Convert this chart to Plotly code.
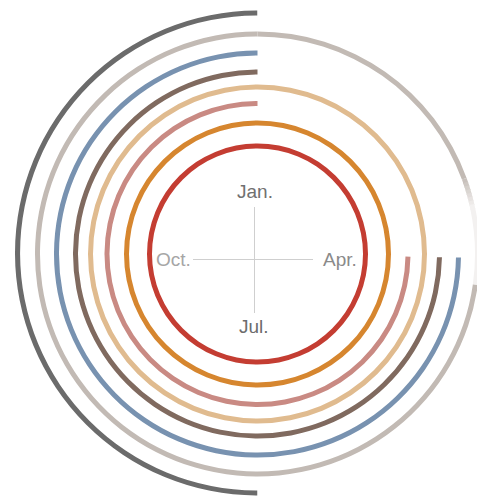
import plotly.graph_objects as go

W, H = 485, 498
OFF = 8  # page body margin: the figure is drawn 8px right/down of the window origin

# ---- data: one ring per series, arcs run clockwise from start angle to Jan. (top) ----
ring_ids = ["r1", "r2", "r3", "r4", "r5", "r6", "r7", "r8"]
ring_radius = [108, 131, 150.5, 167, 182, 201, 220, 240]
arc_start_deg = [0, 0, 91, 0, 91, 91, 98, 180]      # degrees clockwise from top
arc_end_deg = [360, 360, 360, 360, 360, 360, 360, 360]
ring_colors = ["#c43d32", "#d6862f", "#c98a83", "#e0bb8f",
               "#806a5f", "#7892b0", "#c2bab4", "#6b6b6b"]

# the light ring also has a fading segment at the top-right
partial_start = 0
partial_solid_end = 70
partial_fade_end = 78

month_labels = ["Jan.", "Apr.", "Jul.", "Oct."]
month_label_colors = ["#707070", "#8a8a8a", "#6c6c6c", "#a6a6a6"]

THICK = 5.0

fig = go.Figure()

def sx(x):  # window px -> paper x
    return (x - OFF) / W

def sy(y):  # window px (from top) -> paper y
    return 1 - (y - OFF) / H

# main polar: all rings except the outermost
CX, CY, R1 = 257.5, 254, 226
# outer polar (left half only)
CX2, CY2, R2 = 257.5, 253, 244

def add_arc(subplot, radius, a0, a1, color):
    fig.add_trace(go.Barpolar(
        r=[THICK], base=[radius - THICK / 2], theta=[(a0 + a1) / 2], width=[a1 - a0],
        marker=dict(color=color, line=dict(width=0)),
        subplot=subplot, hoverinfo="skip", showlegend=False))

def mix(c1, c2, t):
    a = [int(c1[i:i + 2], 16) for i in (1, 3, 5)]
    b = [int(c2[i:i + 2], 16) for i in (1, 3, 5)]
    return "#%02x%02x%02x" % tuple(round(a[k] + (b[k] - a[k]) * t) for k in range(3))

for i, rid in enumerate(ring_ids):
    sub = "polar2" if i == len(ring_ids) - 1 else "polar"
    add_arc(sub, ring_radius[i], arc_start_deg[i], arc_end_deg[i], ring_colors[i])

# fading top-right part of the light ring
si = 6
add_arc("polar", ring_radius[si], partial_start, partial_solid_end, ring_colors[si])
faint = "#f3f1f0"
nseg = 8
step = (partial_fade_end - partial_solid_end) / nseg
for k in range(nseg):
    a0 = partial_solid_end + k * step
    add_arc("polar", ring_radius[si], a0, a0 + step + 0.3, mix(ring_colors[si], faint, (k + 1) / nseg))
add_arc("polar", ring_radius[si], partial_fade_end, arc_start_deg[si], faint)

# month cross: a small cartesian subplot whose zero lines form the cross
CROSS_X0, CROSS_X1, CROSS_XC = 193, 313, 254
CROSS_Y0, CROSS_Y1, CROSS_YC = 207, 313, 259
fig.add_trace(go.Scatter(x=[0], y=[0], mode="markers", marker=dict(opacity=0),
                         xaxis="x", yaxis="y", hoverinfo="skip", showlegend=False))

fig.update_layout(
    width=W, height=H, margin=dict(l=0, r=0, t=0, b=0),
    paper_bgcolor="white", plot_bgcolor="rgba(0,0,0,0)", showlegend=False,
    polar=dict(domain=dict(x=[sx(CX - R1), sx(CX + R1)], y=[sy(CY + R1), sy(CY - R1)]),
               bgcolor="rgba(0,0,0,0)",
               radialaxis=dict(visible=False, range=[0, R1]),
               angularaxis=dict(visible=False, rotation=90, direction="clockwise"),
               bargap=0),
    polar2=dict(domain=dict(x=[sx(CX2 - R2), sx(CX2)], y=[sy(CY2 + R2), sy(CY2 - R2)]),
                bgcolor="rgba(0,0,0,0)", sector=[90, 270],
                radialaxis=dict(visible=False, range=[0, R2]),
                angularaxis=dict(visible=False, rotation=90, direction="clockwise"),
                bargap=0),
    xaxis=dict(domain=[sx(CROSS_X0), sx(CROSS_X1)],
               range=[CROSS_X0 - CROSS_XC, CROSS_X1 - CROSS_XC],
               showgrid=False, showticklabels=False, ticks="", showline=False,
               zeroline=True, zerolinecolor="#cfcfcf", zerolinewidth=1, fixedrange=True),
    yaxis=dict(domain=[sy(CROSS_Y1), sy(CROSS_Y0)],
               range=[CROSS_YC - CROSS_Y1, CROSS_YC - CROSS_Y0],
               showgrid=False, showticklabels=False, ticks="", showline=False,
               zeroline=True, zerolinecolor="#cfcfcf", zerolinewidth=1, fixedrange=True),
)

label_pos = {"Jan.": (255, 192), "Apr.": (339.5, 260), "Jul.": (254, 326), "Oct.": (173.5, 260)}
for lab, col in zip(month_labels, month_label_colors):
    x, y = label_pos[lab]
    fig.add_annotation(x=sx(x), y=sy(y), xref="paper", yref="paper", text=lab,
                       showarrow=False, xanchor="center", yanchor="middle",
                       font=dict(family="Liberation Sans", size=19, color=col))

fig.write_html("out.html")
